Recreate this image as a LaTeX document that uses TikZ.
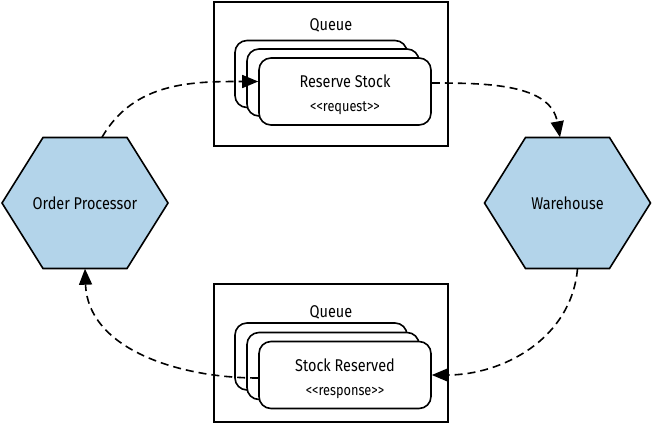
\documentclass[tikz,border=0pt]{standalone}
\usepackage{fontspec}
\setmainfont{Fira Sans}[FakeStretch=0.85, Ligatures=TeXOff]
\usetikzlibrary{arrows.meta}

\definecolor{hexblue}{RGB}{179,212,234}

\tikzset{
    hexa/.style={draw, fill=hexblue, line width=1.6pt, line join=miter},
    hexnode/.style={minimum width=166pt, minimum height=131pt, inner sep=0pt},
    queuebox/.style={draw, line width=1.6pt, minimum width=234pt, inner sep=0pt},
    msg/.style={draw, line width=1.6pt, fill=white, rounded corners=12pt,
        minimum width=172pt, minimum height=67pt, inner sep=0pt},
    msgtext/.style={align=center, inner sep=0pt},
    flow/.style={line width=1.6pt, dash pattern=on 8pt off 5pt,
        -{Triangle[length=16pt,width=13pt]}}
}

% hexagon around a centre point
\newcommand{\hexshape}[1]{%
    \draw[hexa] ([xshift=-83pt]#1) -- ++(41,-65.5) -- ++(84,0) -- ++(41,65.5)
        -- ++(-41,65.5) -- ++(-84,0) -- cycle;}
\newcommand{\msgsub}[1]{{\fontsize{15}{17}\selectfont<<#1>>}}

\begin{document}
\begin{tikzpicture}[x=1pt, y=-1pt, font=\fontsize{17}{20}\selectfont]
    \useasboundingbox (0,0) rectangle (653,432);

    % Services
    \coordinate (opc) at (85,203);
    \hexshape{opc}
    \node[hexnode] (op) at (opc) {Order Processor};

    \coordinate (whc) at (567.5,203);
    \hexshape{whc}
    \node[hexnode] (wh) at (whc) {Warehouse};

    % Request queue
    \node[queuebox, minimum height=144pt] (qtop) at (331,74) {};
    \node (qtoplabel) at (331,25) {Queue};
    \node[msg] (rs3) at (321,74) {};
    \node[msg] (rs2) at (333,82.5) {};
    \node[msg] (rs) at (345,91.5) {};
    \node[msgtext] (rstext) at (345,95) {Reserve Stock\\[4pt]\msgsub{request}};

    % Response queue
    \node[queuebox, minimum height=138pt] (qbot) at (331,353) {};
    \node (qbotlabel) at (331,312) {Queue};
    \node[msg] (sr3) at (321,356.5) {};
    \node[msg] (sr2) at (333,366) {};
    \node[msg] (sr) at (345,375) {};
    \node[msgtext] (srtext) at (345,379) {Stock Reserved\\[4pt]\msgsub{response}};

    % Message flow
    \draw[flow] ([xshift=17pt]op.north) to[out=60, in=180] ([yshift=10pt]rs.west);
    \draw[flow] ([yshift=8.5pt]rs.east) to[out=0, in=100] ([xshift=-7.5pt]wh.north);
    \draw[flow] ([xshift=10pt]wh.south) to[out=-95, in=0] (sr.east);
    \draw[flow] ([yshift=-3pt]sr.west) to[out=180, in=-88] (op.south);
\end{tikzpicture}
\end{document}
